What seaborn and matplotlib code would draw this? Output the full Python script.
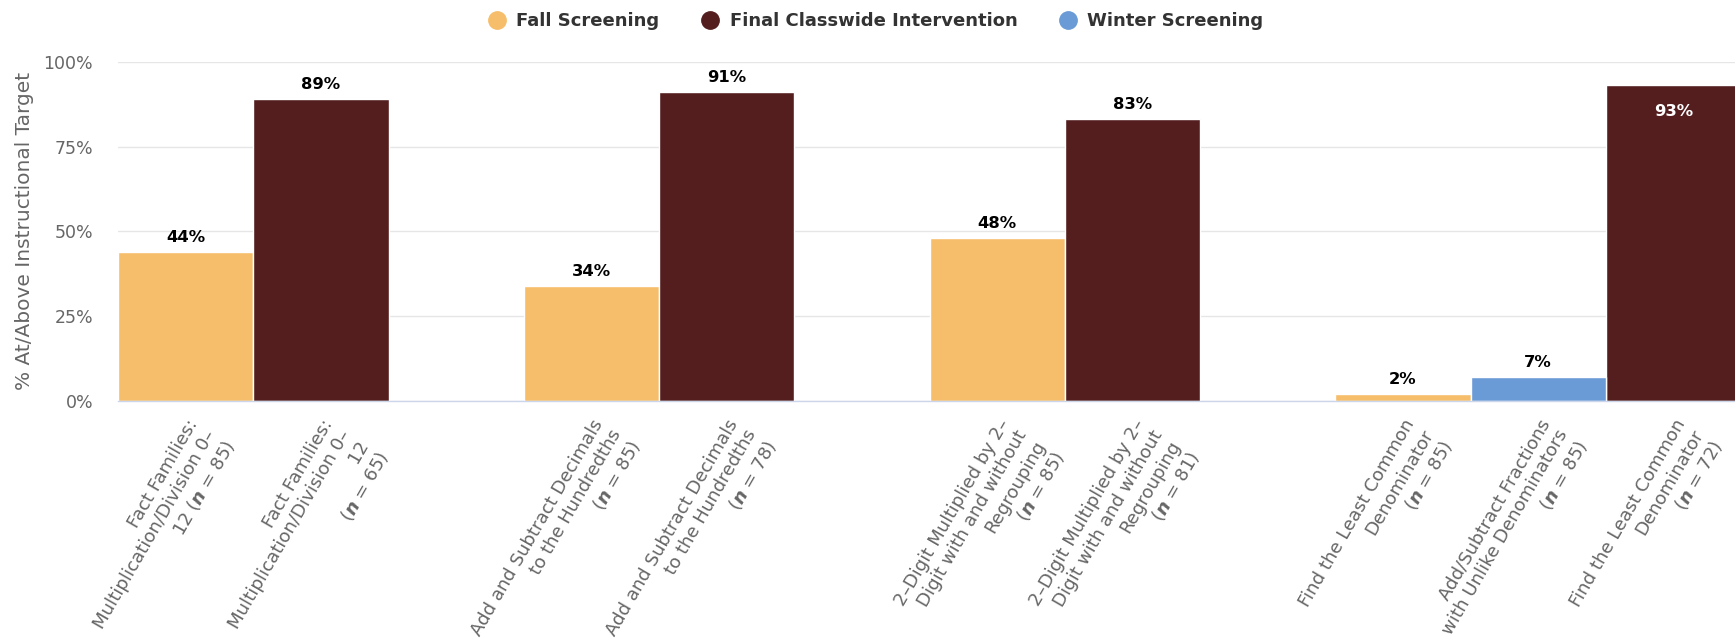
import matplotlib
matplotlib.use("Agg")
import matplotlib.pyplot as plt
from matplotlib.lines import Line2D
import numpy as np
import pandas as pd
import seaborn as sns

# ---- data -------------------------------------------------------------
tick_labels = [
    "Fact Families:\nMultiplication/Division 0–\n12 (n = 85)",
    "Fact Families:\nMultiplication/Division 0–\n12\n(n = 65)",
    "Add and Subtract Decimals\nto the Hundredths\n(n = 85)",
    "Add and Subtract Decimals\nto the Hundredths\n(n = 78)",
    "2–Digit Multiplied by 2–\nDigit with and without\nRegrouping\n(n = 85)",
    "2–Digit Multiplied by 2–\nDigit with and without\nRegrouping\n(n = 81)",
    "Find the Least Common\nDenominator\n(n = 85)",
    "Add/Subtract Fractions\nwith Unlike Denominators\n(n = 85)",
    "Find the Least Common\nDenominator\n(n = 72)",
]
series = [
    "Fall Screening", "Final Classwide Intervention",
    "Fall Screening", "Final Classwide Intervention",
    "Fall Screening", "Final Classwide Intervention",
    "Fall Screening", "Winter Screening", "Final Classwide Intervention",
]
pct_at_target = [44, 89, 34, 91, 48, 83, 2, 7, 93]
skill_group = [0, 0, 1, 1, 2, 2, 3, 3, 3]

series_order = ["Fall Screening", "Final Classwide Intervention", "Winter Screening"]
series_colors = {
    "Fall Screening": "#F6BE6A",
    "Final Classwide Intervention": "#541E1F",
    "Winter Screening": "#6A9BD6",
}

# ---- style --------------------------------------------------------------
sns.set_theme(style="white")
plt.rcParams["font.family"] = ["DejaVu Sans"]
plt.rcParams["mathtext.fontset"] = "custom"
plt.rcParams["mathtext.bf"] = "DejaVu Sans:italic:bold"
plt.rcParams["mathtext.rm"] = "DejaVu Sans"

W, H = 1735, 643
fig = plt.figure(figsize=(W / 100, H / 100), dpi=100)
fig.patch.set_facecolor("white")

left_px, right_px = 118, 1741
top_px, base_px = 61.7, 401
ax = fig.add_axes([left_px / W, (H - base_px) / H,
                   (right_px - left_px) / W, (base_px - top_px) / H])

# one empty slot between skill groups
positions = np.arange(len(pct_at_target)) + np.array(skill_group)

df = pd.DataFrame({"pos": positions, "pct": pct_at_target, "series": series})

sns.barplot(
    data=df, x="pos", y="pct", hue="series", hue_order=series_order,
    palette=series_colors, native_scale=True, dodge=False, width=1.0,
    edgecolor="white", linewidth=1.0, errorbar=None, legend=False,
    saturation=1, ax=ax, zorder=2,
)

ax.set_xlim(-0.5, positions.max() + 0.5)
ax.set_ylim(0, 100)

# grid and axes
ax.set_yticks([0, 25, 50, 75, 100])
ax.set_yticklabels([f"{t}%" for t in [0, 25, 50, 75, 100]])
ax.yaxis.grid(True, color="#e6e6e6", linewidth=1.0)
ax.xaxis.grid(False)
ax.set_axisbelow(True)
for side in ["top", "right", "left"]:
    ax.spines[side].set_visible(False)
ax.spines["bottom"].set_color("#ccd6eb")
ax.spines["bottom"].set_linewidth(1.0)
ax.spines["bottom"].set_zorder(3)

ax.tick_params(axis="y", length=0, pad=18, labelsize=12.5, labelcolor="#666666")
ax.tick_params(axis="x", length=0, pad=11, labelsize=13.1, labelcolor="#666666")

ax.set_xticks(positions)
ax.set_xticklabels(
    [lbl.replace("(n =", r"($\mathbf{n}$ =") for lbl in tick_labels],
    rotation=60, ha="right", va="top", rotation_mode="anchor",
    multialignment="right",
)
ax.set_xlabel("")
ax.set_ylabel("% At/Above Instructional Target", fontsize=14.5, color="#666666")
ax.yaxis.set_label_coords(-0.052, 0.5)

# value labels
for x, v in zip(positions, pct_at_target):
    if v > 92:
        ax.annotate(f"{v}%", (x, v), xytext=(0, -13), textcoords="offset points",
                    ha="center", va="top", fontsize=11.8, fontweight="bold",
                    color="white", zorder=4)
    else:
        ax.annotate(f"{v}%", (x, v), xytext=(0, 5), textcoords="offset points",
                    ha="center", va="bottom", fontsize=11.8, fontweight="bold",
                    color="black", zorder=4)

# legend with round markers
handles = [
    Line2D([], [], marker="o", linestyle="", markersize=12.5,
           markerfacecolor=series_colors[s], markeredgecolor=series_colors[s])
    for s in series_order
]
fig.legend(
    handles, series_order, loc="center", bbox_to_anchor=(0.505, 0.9666),
    ncol=3, frameon=False, prop={"weight": "bold", "size": 13},
    labelcolor="#333333", handlelength=0.9, handletextpad=0.63,
    columnspacing=2.35,
)

fig.savefig("out.png", dpi=100, facecolor="white")
